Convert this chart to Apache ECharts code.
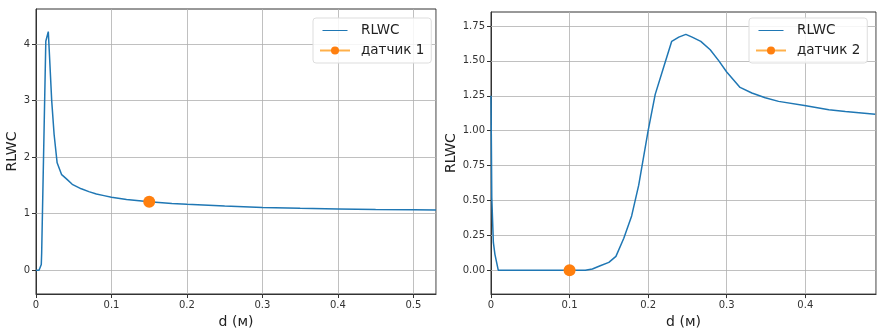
<!DOCTYPE html>
<html><head><meta charset="utf-8">
<script src="https://cdn.jsdelivr.net/npm/echarts@6/dist/echarts.min.js"></script>
<style>html,body{margin:0;padding:0;background:#fff}#c{width:892px;height:334px}</style>
</head><body><div id="c"></div>
<script>
const dLeft = [0,0.004,0.0055,0.007,0.0075,0.013,0.0145,0.0163,0.0175,0.0208,0.024,0.028,0.034,0.04,0.048,0.06,0.07,0.08,0.09,0.1,0.12,0.15,0.18,0.2,0.25,0.3,0.35,0.4,0.45,0.5,0.53];
const rlwcLeft = [0,0,0.02,0.1,0.3,4.05,4.08,4.22,3.9,3.0,2.4,1.9,1.69,1.62,1.52,1.44,1.39,1.35,1.32,1.29,1.25,1.21,1.18,1.165,1.135,1.11,1.095,1.085,1.075,1.068,1.065];
const dRight = [0,0.001,0.003,0.005,0.0093,0.05,0.1,0.12,0.129,0.139,0.15,0.159,0.169,0.179,0.188,0.2,0.209,0.22,0.23,0.239,0.248,0.256,0.267,0.279,0.29,0.3,0.317,0.332,0.349,0.366,0.399,0.43,0.451,0.489];
const rlwcRight = [1.25,0.52,0.2,0.115,0,0,0,0,0.01,0.033,0.057,0.1,0.23,0.39,0.61,1.0,1.26,1.46,1.64,1.67,1.69,1.67,1.64,1.58,1.5,1.42,1.31,1.27,1.236,1.21,1.18,1.15,1.137,1.118];
const sensor1 = [0.15, 1.21];
const sensor2 = [0.1, 0.0];
const xTicksLeft = [0,0.1,0.2,0.3,0.4,0.5];
const xTicksRight = [0,0.1,0.2,0.3,0.4];
const yTicksLeft = [0,1,2,3,4];
const yTicksRight = [0,0.25,0.5,0.75,1.0,1.25,1.5,1.75];

const zip = (a,b)=>a.map((v,i)=>[v,b[i]]);
const blue = '#1f77b4', orange = '#ff7f0e';
const font = 'DejaVu Sans';
const gridColor = '#b0b0b0';
const lineIcon = 'path://M0,0L0.01,0L0.01,0.01Z M0,5.3L30,5.3L30,6.7L0,6.7Z M29.99,11.99L30,11.99L30,12Z';
function fmtX(ticks){ return v => ticks.some(t=>Math.abs(t-v)<1e-9) ? (v===0?'0':String(+v.toFixed(1))) : ''; }
function xAxis(idx, max, ticks){
  return {type:'value', gridIndex:idx, min:0, max:max, interval:0.1,
    name:'d (м)', nameLocation:'middle', nameGap: idx===0?21:18,
    nameTextStyle:{fontFamily:font,fontSize:14,color:'#222'},
    axisLine:{show:true,onZero:false,lineStyle:{color:'#333',width:1}},
    axisTick:{show:true,length:4,lineStyle:{color:'#333'}},
    axisLabel:{fontFamily:font,fontSize:10,color:'#333',margin:6,formatter:fmtX(ticks),showMaxLabel:false},
    splitLine:{show:true,lineStyle:{color:gridColor,width:0.8}}};
}
function yAxis(idx, min, max, ticks, dec, gap){
  return {type:'value', gridIndex:idx, min:min, max:max,
    name:'RLWC', nameLocation:'middle', nameGap:gap, nameRotate:90,
    nameTextStyle:{fontFamily:font,fontSize:14,color:'#222'},
    axisLine:{show:true,onZero:false,lineStyle:{color:'#333',width:1}},
    axisTick:{show:true,length:4,lineStyle:{color:'#333'},customValues:ticks},
    axisLabel:{fontFamily:font,fontSize:10,color:'#333',margin:6,customValues:ticks,formatter:v=>v.toFixed(dec)},
    splitLine:{show:false}};
}
function hGrid(ticks){
  return {silent:true, symbol:'none', z:1, label:{show:false},
    lineStyle:{color:gridColor,width:0.8,type:'solid'},
    emphasis:{disabled:true},
    data:ticks.map(t=>({yAxis:t}))};
}
function legend(left, names){
  return {orient:'vertical', left:left, top:18,
    data:[{name:names[0], icon:lineIcon},{name:names[1]}],
    padding:[5,7,5,6], itemGap:5, itemWidth:30, itemHeight:10,
    backgroundColor:'rgba(255,255,255,0.85)', borderColor:'#ddd', borderWidth:1, borderRadius:3,
    textStyle:{fontFamily:font,fontSize:13.5,lineHeight:15,color:'#222',padding:[0,0,0,6]}};
}
const chart = echarts.init(document.getElementById('c'), null, {renderer:'canvas'});
chart.setOption({
  animation:false,
  grid:[
    {left:36, top:9, width:400, height:285, show:true, borderColor:'#333', borderWidth:1, backgroundColor:'transparent'},
    {left:491, top:12, width:385, height:285, show:true, borderColor:'#333', borderWidth:1, backgroundColor:'transparent'}
  ],
  xAxis:[xAxis(0,0.53,xTicksLeft), xAxis(1,0.49,xTicksRight)],
  yAxis:[yAxis(0,-0.42,4.62,yTicksLeft,0,12), yAxis(1,-0.17,1.85,yTicksRight,2,31)],
  legend:[legend(313,['RLWC','датчик 1']), legend(749,['RLWC ','датчик 2'])],
  series:[
    {name:'RLWC', type:'line', xAxisIndex:0, yAxisIndex:0, data:zip(dLeft,rlwcLeft), z:3, showSymbol:false, symbol:'none', lineStyle:{color:blue,width:1.5}, itemStyle:{color:blue}, markLine:hGrid(yTicksLeft)},
    {name:'датчик 1', type:'line', xAxisIndex:0, yAxisIndex:0, data:[sensor1], z:4, symbol:'circle', symbolSize:12, itemStyle:{color:orange}, lineStyle:{color:'#ffb04a',width:1.5}},
    {name:'RLWC ', type:'line', xAxisIndex:1, yAxisIndex:1, data:zip(dRight,rlwcRight), z:3, showSymbol:false, symbol:'none', lineStyle:{color:blue,width:1.5}, itemStyle:{color:blue}, markLine:hGrid(yTicksRight)},
    {name:'датчик 2', type:'line', xAxisIndex:1, yAxisIndex:1, data:[sensor2], z:4, symbol:'circle', symbolSize:12, itemStyle:{color:orange}, lineStyle:{color:'#ffb04a',width:1.5}}
  ]
});
</script></body></html>
